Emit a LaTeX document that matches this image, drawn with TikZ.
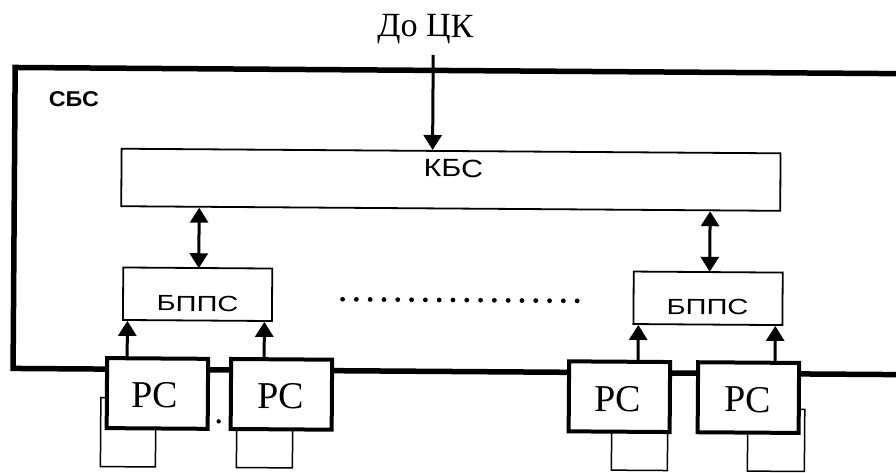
\documentclass[tikz,border=0pt]{standalone}
\usepackage{fontspec}
\usepackage{graphicx}
\setmainfont{Liberation Serif}
\newfontfamily\sansf{Liberation Sans}
\usetikzlibrary{arrows.meta}
\begin{document}
\begin{tikzpicture}[x=1pt,y=-1pt,
  frameline/.style={line width=5.5pt},
  blk/.style={draw, line width=1.8pt, fill=white, inner sep=0pt, transform shape},
  pcbox/.style={draw, line width=4pt, fill=white, inner sep=0pt, minimum width=101pt, minimum height=70pt, transform shape},
  pctext/.style={anchor=base, inner sep=0pt, font=\fontsize{38}{40}\selectfont, transform shape},
  smallbox/.style={draw, line width=1.5pt, inner sep=0pt, transform shape},
  lbl/.style={anchor=base, inner sep=0pt, transform shape},
  tip/.tip={Triangle[width=18pt,length=15pt]},
  arr/.style={line width=3pt, -tip},
  darr/.style={line width=3pt, tip-tip},
  ]
\useasboundingbox (0,0) rectangle (896,473);
\begin{scope}[rotate around={-0.4:(448,236)}]
  % outer frame (open on the right)
  \coordinate (ftr) at (900,70.5);
  \coordinate (ftl) at (14,70.5);
  \coordinate (fbl) at (14,371.5);
  \coordinate (fbr) at (900,371.5);
  \draw[frameline, line join=miter] (ftr) -- (ftl) -- (fbl) -- (fbr);
  \node[lbl, font=\sansf\bfseries\fontsize{21.5}{23}\selectfont] (sbs) at (73,109) {\scalebox{1.08}[1]{СБС}};

  % top label and arrow
  \node[lbl, font=\fontsize{34}{36}\selectfont] (dock) at (424,37) {До ЦК};
  \coordinate (ck) at (432,55);

  % KBS
  \node[blk, minimum width=659pt, minimum height=57.5pt] (kbs) at (450.5,179.75) {};
  \node[lbl, font=\sansf\fontsize{25}{27}\selectfont] (kbst) at (453,177) {\scalebox{1.22}[1]{КБС}};
  \draw[arr] (ck) -- (ck |- kbs.north);

  % BPPS blocks
  \node[blk, minimum width=149pt, minimum height=52.5pt] (bl) at (198,296) {};
  \node[blk, minimum width=149pt, minimum height=52.5pt] (br) at (708.5,296.5) {};
  \node[lbl, font=\sansf\fontsize{22}{24}\selectfont] (blt) at (198,313) {\scalebox{1.32}[1]{БППС}};
  \node[lbl, font=\sansf\fontsize{22}{24}\selectfont] (brt) at (708,313) {\scalebox{1.32}[1]{БППС}};

  % double arrows
  \coordinate (dl) at (199,270);
  \coordinate (dr) at (710,270);
  \draw[darr] (dl |- kbs.south) -- (dl);
  \draw[darr] (dr |- kbs.south) -- (dr);

  % dotted line
  \foreach \i in {0,...,17} {
    \fill (343+\i*13.8,300) circle[radius=2.4pt];
  }

  % small boxes under PC
  \node[smallbox, minimum width=55pt, minimum height=69pt] (s1) at (129.5,434.5) {};
  \node[smallbox, minimum width=56pt, minimum height=45pt] (s2) at (266,446.5) {};
  \node[smallbox, minimum width=56pt, minimum height=45pt] (s3) at (641,446.5) {};
  \node[smallbox, minimum width=57pt, minimum height=62pt] (s4) at (777.5,438) {};

  % PC boxes
  \node[pcbox] (pc1) at (158.5,395.5) {};
  \node[pcbox] (pc2) at (282.5,395.5) {};
  \node[pcbox] (pc3) at (620.5,395.5) {};
  \node[pcbox] (pc4) at (749.5,395.5) {};
  \node[pctext] (pc1t) at (156,410) {РС};
  \node[pctext] (pc2t) at (282,410) {РС};
  \node[pctext] (pc3t) at (619,410) {РС};
  \node[pctext] (pc4t) at (749,410) {РС};

  % up arrows
  \coordinate (u1) at (128,360);
  \coordinate (u2) at (265,360);
  \coordinate (u3) at (639,360);
  \coordinate (u4) at (776,360);
  \draw[arr] (u1) -- (u1 |- bl.south);
  \draw[arr] (u2) -- (u2 |- bl.south);
  \draw[arr] (u3) -- (u3 |- br.south);
  \draw[arr] (u4) -- (u4 |- br.south);

  % stray dot
  \coordinate (sd) at (220,423);
  \fill (sd) circle[radius=2.2pt];
\end{scope}
\end{tikzpicture}
\end{document}
